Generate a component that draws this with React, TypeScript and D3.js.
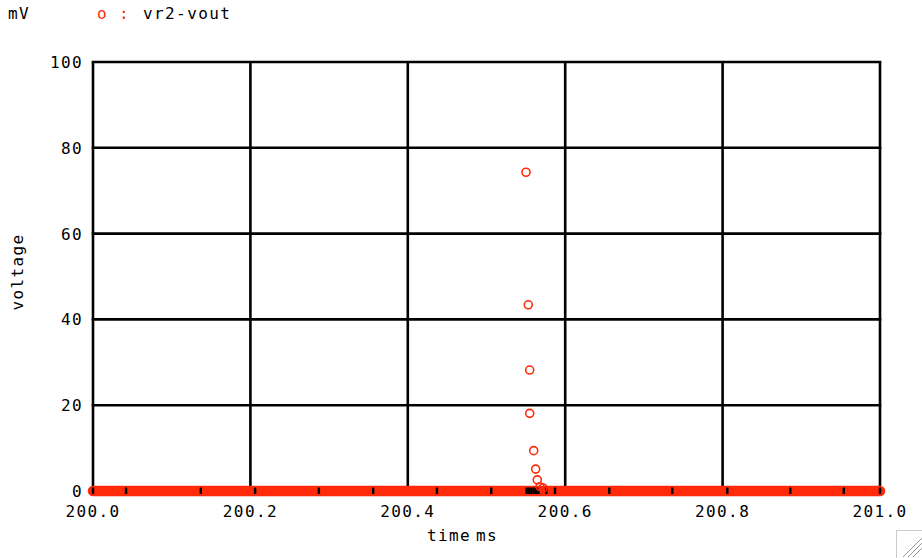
import React from "react";
import { scaleLinear, line } from "d3";

// vr2-vout samples around the spike (time in ms, value in mV)
const spikeTime = [200.5502, 200.5531, 200.5549, 200.5549, 200.56, 200.5625, 200.5645, 200.568, 200.5718];
const spikeValue = [74.3, 43.4, 28.2, 18.1, 9.4, 5.1, 2.6, 1.0, 0.7];

// time points where the trace sits at zero (black step marks)
const zeroTime = [
  200.0, 200.042, 200.137, 200.206, 200.287, 200.356, 200.437, 200.506,
  200.551, 200.554, 200.557, 200.56, 200.563, 200.566,
  200.576, 200.587, 200.656, 200.736, 200.806, 200.886, 200.954, 201.0,
];

const xTicks = [200.0, 200.2, 200.4, 200.6, 200.8, 201.0];
const yTicks = [0, 20, 40, 60, 80, 100];

const W = 922;
const H = 558;
const font = "'DejaVu Sans Mono', monospace";
const red = "#ff2a0a";

export default function App() {
  const x = scaleLinear().domain([200, 201]).range([93, 880]);
  const y = scaleLinear().domain([0, 100]).range([491, 62]);

  const band = line<number>()
    .x((t) => x(t))
    .y(() => y(0));

  const txt = { fontFamily: font, fontSize: 16, letterSpacing: 1.4 } as const;

  return (
    <svg width={W} height={H} style={{ position: "absolute", left: 0, top: 0, background: "#fff" }}>
      {/* header */}
      <text x={8} y={19} {...txt} fill="#000">mV</text>
      <text x={97} y={19} {...txt} fill={red}>o :</text>
      <text x={143} y={19} {...txt} fill="#000">vr2-vout</text>

      {/* grid */}
      {xTicks.map((t) => (
        <line key={"gx" + t} x1={x(t)} x2={x(t)} y1={y(100)} y2={y(0)} stroke="#000" strokeWidth={2.6} />
      ))}
      {yTicks.map((v) => (
        <line key={"gy" + v} x1={x(200) - 1.3} x2={x(201) + 1.3} y1={y(v)} y2={y(v)} stroke="#000" strokeWidth={2.6} />
      ))}

      {/* y tick labels */}
      {yTicks.map((v) => (
        <text key={"ly" + v} x={83} y={y(v) + 6} textAnchor="end" {...txt} fill="#000">{v}</text>
      ))}
      {/* x tick labels */}
      {xTicks.map((t) => (
        <text key={"lx" + t} x={x(t)} y={517} textAnchor="middle" {...txt} fill="#000">{t.toFixed(1)}</text>
      ))}

      <text x={449} y={541} textAnchor="middle" {...txt} fill="#000">time</text>
      <text x={487} y={541} textAnchor="middle" {...txt} fill="#000">ms</text>
      <text transform={`translate(23,${272}) rotate(-90)`} textAnchor="middle" {...txt} fill="#000">voltage</text>

      {/* dense zero samples form a thick red band */}
      <path d={band(zeroTime) ?? ""} fill="none" stroke={red} strokeWidth={10.5} strokeLinecap="round" />
      {zeroTime.map((t, i) => (
        <line key={"zt" + i} x1={x(t)} x2={x(t)} y1={y(0) - 3.5} y2={y(0) + 3} stroke="#000" strokeWidth={2.4} />
      ))}

      {/* spike samples */}
      {spikeTime.map((t, i) => (
        <circle key={"sp" + i} cx={x(t)} cy={y(spikeValue[i])} r={4} fill="none" stroke={red} strokeWidth={1.6} />
      ))}

      {/* window resize grip */}
      <rect x={896.5} y={530.5} width={30} height={30} fill="#fff" stroke="#ccc" />
      {[0, 5, 10].map((d) => (
        <line key={"g" + d} x1={903 + d} x2={922} y1={557} y2={538 + d} stroke="#999" strokeWidth={1} />
      ))}
    </svg>
  );
}
